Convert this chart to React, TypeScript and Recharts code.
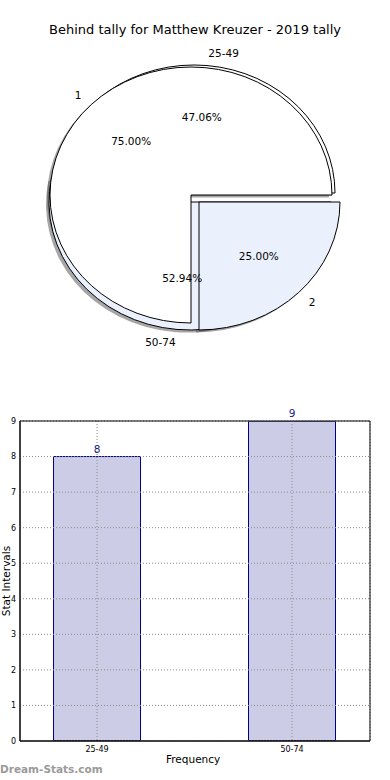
import React from 'react'
import {
  PieChart,
  Pie,
  BarChart,
  Bar,
  XAxis,
  YAxis,
  CartesianGrid,
  LabelList,
  ReferenceArea,
} from 'recharts'

// tallies by range (pie A + bars)
const rangeNames = ['25-49', '50-74']
const rangeCounts = [8, 9]
// behind tally split (pie B)
const tallyNames = ['1', '2']
const tallyCounts = [3, 1]
const yTicks = [0, 1, 2, 3, 4, 5, 6, 7, 8, 9]

const rangeData = rangeNames.map((name, i) => ({ name, value: rangeCounts[i] }))
const tallyData = tallyNames.map((name, i) => ({ name, value: tallyCounts[i] }))
const barData = rangeNames.map((name, i) => ({ pos: i, name, value: rangeCounts[i] }))

const FONT = '"DejaVu Sans", sans-serif'
const RX = 141
const RY = 128
const RAD = Math.PI / 180

// wedge shift (explode) in px, and fills
const shift: Record<string, [number, number]> = {
  '25-49': [3, -2],
  '50-74': [-1, 7],
  '1': [0, 0],
  '2': [8, 7],
}
const fills: Record<string, string> = {
  '25-49': '#ffffff',
  '50-74': '#ebf1fc',
  '1': '#ffffff',
  '2': '#ebf1fc',
}

function wedgePath(cx: number, cy: number, a0: number, a1: number) {
  const x0 = cx + RX * Math.cos(a0 * RAD)
  const y0 = cy - RY * Math.sin(a0 * RAD)
  const x1 = cx + RX * Math.cos(a1 * RAD)
  const y1 = cy - RY * Math.sin(a1 * RAD)
  const large = a1 - a0 > 180 ? 1 : 0
  return `M${cx},${cy}L${x0},${y0}A${RX},${RY} 0 ${large} 0 ${x1},${y1}Z`
}

function sliceName(props: any) {
  return props.name ?? props.payload?.name
}

function Wedge(props: any) {
  const name = sliceName(props)
  const [dx, dy] = shift[name] || [0, 0]
  const a0 = Math.min(props.startAngle, props.endAngle)
  const a1 = Math.max(props.startAngle, props.endAngle)
  return (
    <path
      d={wedgePath(props.cx + dx, props.cy + dy, a0, a1)}
      fill={fills[name]}
      stroke="#000"
      strokeWidth={1}
      strokeLinejoin="miter"
    />
  )
}

function WedgeShadow(props: any) {
  const name = sliceName(props)
  const [dx, dy] = shift[name] || [0, 0]
  const a0 = Math.min(props.startAngle, props.endAngle)
  const a1 = Math.max(props.startAngle, props.endAngle)
  return (
    <path
      d={wedgePath(props.cx + dx - 3, props.cy + dy + 2.5, a0, a1)}
      fill="#4d4d4d"
      fillOpacity={0.5}
      stroke="none"
    />
  )
}

function Hidden() {
  return <g />
}

function renderLabels(props: any) {
  const name = props.name
  const [dx, dy] = shift[name] || [0, 0]
  const c = Math.cos(props.midAngle * RAD)
  const s = Math.sin(props.midAngle * RAD)
  const ox = props.cx + dx
  const oy = props.cy + dy
  const style = { fontFamily: FONT, fontSize: 10.5, fill: '#000' }
  return (
    <g>
      <text
        x={ox + 1.1 * RX * c}
        y={oy - 1.1 * RY * s}
        textAnchor={c > 0 ? 'start' : 'end'}
        dominantBaseline="central"
        fill="#000"
        style={style}
      >
        {name}
      </text>
      <text
        x={ox + 0.6 * RX * c}
        y={oy - 0.6 * RY * s}
        textAnchor="middle"
        dominantBaseline="central"
        fill="#000"
        style={style}
      >
        {(props.percent * 100).toFixed(2)}%
      </text>
    </g>
  )
}

export default function App() {
  const pieLayers = [
    { id: 'shA', data: rangeData, shape: WedgeShadow, label: false },
    { id: 'shB', data: tallyData, shape: WedgeShadow, label: false },
    { id: 'pA', data: rangeData, shape: Wedge, label: false },
    { id: 'pB', data: tallyData, shape: Wedge, label: false },
    { id: 'lA', data: rangeData, shape: Hidden, label: true },
    { id: 'lB', data: tallyData, shape: Hidden, label: true },
  ]

  return (
    <div
      style={{
        position: 'absolute',
        left: 0,
        top: 0,
        width: 390,
        height: 780,
        background: '#fff',
        fontFamily: FONT,
        overflow: 'hidden',
      }}
    >
      <div
        style={{
          position: 'absolute',
          top: 22,
          left: 0,
          width: 390,
          textAlign: 'center',
          fontSize: 13,
          lineHeight: '15px',
          color: '#000',
        }}
      >
        Behind tally for Matthew Kreuzer - 2019 tally
      </div>

      <div style={{ position: 'absolute', left: 0, top: 0 }}>
        <PieChart width={390} height={380} margin={{ top: 0, right: 0, bottom: 0, left: 0 }}>
          {pieLayers.map((layer) => (
            <Pie
              key={layer.id}
              data={layer.data}
              dataKey="value"
              nameKey="name"
              cx={191}
              cy={195}
              outerRadius={RX}
              startAngle={0}
              endAngle={360}
              stroke="none"
              shape={layer.shape}
              activeShape={layer.shape}
              inactiveShape={layer.shape}
              label={layer.label ? renderLabels : false}
              labelLine={false}
              isAnimationActive={false}
            />
          ))}
        </PieChart>
      </div>

      <div style={{ position: 'absolute', left: 0, top: 400 }}>
        <BarChart
          width={390}
          height={380}
          data={barData}
          margin={{ top: 21, right: 20, bottom: 19, left: 6 }}
        >
          <XAxis
            dataKey="pos"
            type="number"
            domain={[-0.395, 1.4]}
            ticks={[0, 1]}
            allowDataOverflow
            interval={0}
            tickFormatter={(v) => rangeNames[v]}
            height={20}
            tickLine={false}
            tickSize={3}
            axisLine={{ stroke: '#000' }}
            tick={{ fontSize: 8, fill: '#000', fontFamily: FONT }}
          />
          <YAxis
            type="number"
            domain={[0, 9]}
            ticks={yTicks}
            allowDataOverflow
            interval={0}
            width={14}
            tickLine={false}
            tickSize={2}
            axisLine={{ stroke: '#000' }}
            tick={{ fontSize: 8, fill: '#000', fontFamily: FONT }}
          />
          <Bar
            dataKey="value"
            barSize={87}
            fill="#cccce6"
            stroke="#000080"
            strokeWidth={1}
            isAnimationActive={false}
          >
            <LabelList
              dataKey="value"
              position="top"
              offset={4}
              fill="#1a1a8c"
              style={{ fontSize: 10.5, fontFamily: FONT }}
            />
          </Bar>
          {/* matplotlib draws the dotted grid over the bars */}
          <CartesianGrid
            stroke="#8c8c8c"
            strokeWidth={1}
            strokeDasharray="1 2"
            zIndex={600}
          />
          <ReferenceArea
            x1={-0.395}
            x2={1.4}
            y1={0}
            y2={9}
            fill="none"
            fillOpacity={0}
            stroke="#000"
            strokeWidth={1}
            strokeOpacity={1}
            zIndex={700}
          />
        </BarChart>
      </div>

      <div
        style={{
          position: 'absolute',
          left: 166,
          top: 753,
          fontSize: 10.5,
          lineHeight: '13px',
          color: '#000',
        }}
      >
        Frequency
      </div>
      <div
        style={{
          position: 'absolute',
          left: 6,
          top: 581,
          fontSize: 10.5,
          lineHeight: '12px',
          color: '#000',
          whiteSpace: 'nowrap',
          transform: 'translate(-50%, -50%) rotate(-90deg)',
        }}
      >
        Stat Intervals
      </div>
      <div
        style={{
          position: 'absolute',
          left: 0,
          top: 763,
          fontSize: 10.5,
          lineHeight: '13px',
          fontWeight: 'bold',
          color: '#9a9a9a',
        }}
      >
        Dream-Stats.com
      </div>
    </div>
  )
}
